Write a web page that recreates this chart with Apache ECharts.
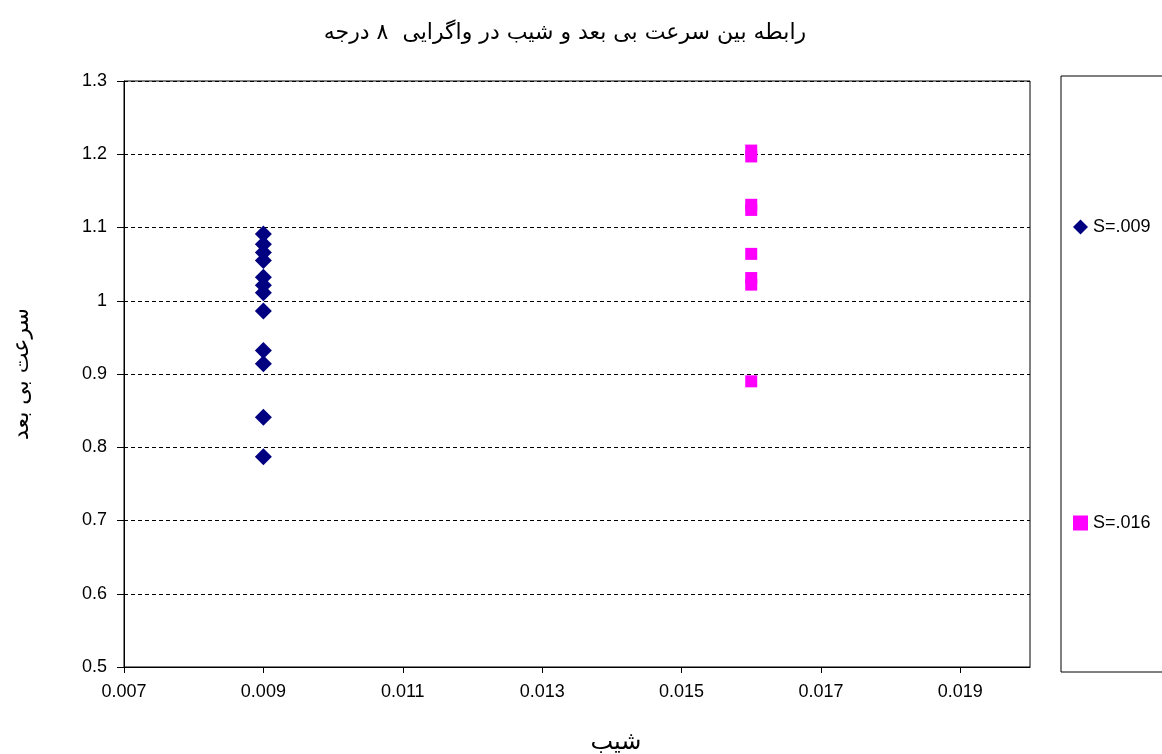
<!DOCTYPE html>
<html>
<head>
<meta charset="utf-8">
<script src="https://cdn.jsdelivr.net/npm/echarts@6/dist/echarts.min.js"></script>
<style>
html,body{margin:0;padding:0;background:#fff;}
#chart{width:1162px;height:754px;}
</style>
</head>
<body>
<div id="chart"></div>
<script>
const titleText = 'رابطه بین سرعت بی بعد و شیب در واگرایی  ۸ درجه';
const xAxisName = 'شیب';
const yAxisName = 'سرعت بی بعد';
const seriesNames = ['S=.009', 'S=.016'];
const xTickLabels = [0.007, 0.009, 0.011, 0.013, 0.015, 0.017, 0.019];
const s009Slope = 0.009;
const s009Values = [1.091, 1.077, 1.066, 1.055, 1.032, 1.021, 1.011, 0.986, 0.932, 0.914, 0.841, 0.787];
const s016Slope = 0.016;
const s016Values = [1.205, 1.197, 1.131, 1.124, 1.064, 1.031, 1.022, 0.890];

const chart = echarts.init(document.getElementById('chart'));
const font = '"Liberation Sans", Arial, sans-serif';
const arFont = '"DejaVu Sans", "Noto Sans", sans-serif';
chart.setOption({
  animation: false,
  backgroundColor: '#fff',
  title: {
    text: titleText,
    left: 560,
    top: 17,
    textAlign: 'center',
    textStyle: { fontFamily: arFont, fontSize: 22, fontWeight: 'normal', color: '#000' }
  },
  grid: {
    left: 124, top: 81, right: 132, bottom: 87,
    outerBoundsMode: 'none',
    containLabel: false,
    show: true, borderColor: '#000', borderWidth: 1, backgroundColor: '#fff'
  },
  legend: {
    orient: 'vertical',
    left: 1061,
    top: 76,
    padding: [142, 200, 140, 12],
    borderColor: '#000',
    borderWidth: 1,
    itemWidth: 15,
    itemHeight: 15,
    itemGap: 278,
    textStyle: { fontFamily: font, fontSize: 18, color: '#000' },
    data: [
      { name: seriesNames[0], icon: 'diamond' },
      { name: seriesNames[1], icon: 'rect' }
    ]
  },
  xAxis: {
    type: 'value',
    min: 0.007,
    max: 0.020,
    name: xAxisName,
    nameLocation: 'middle',
    nameGap: 64,
    nameTextStyle: { fontFamily: arFont, fontSize: 24, color: '#000', padding: [0, 0, 0, 78] },
    axisLine: { show: true, lineStyle: { color: '#000', width: 1 } },
    axisTick: { show: true, length: 6, customValues: xTickLabels, lineStyle: { color: '#000' } },
    axisLabel: { customValues: xTickLabels, margin: 16, fontFamily: font, fontSize: 18, color: '#000',
      formatter: v => v.toFixed(3) },
    splitLine: { show: false }
  },
  yAxis: {
    type: 'value',
    min: 0.5,
    max: 1.3,
    interval: 0.1,
    name: yAxisName,
    nameLocation: 'middle',
    nameRotate: 90,
    nameGap: 91,
    nameTextStyle: { fontFamily: arFont, fontSize: 22, color: '#000' },
    axisLine: { show: true, lineStyle: { color: '#000', width: 1 } },
    axisTick: { show: true, length: 7, lineStyle: { color: '#000' } },
    axisLabel: { margin: 17, fontFamily: font, fontSize: 18, color: '#000' },
    splitLine: { show: true, lineStyle: { color: '#000', type: [4, 3], width: 1 } }
  },
  series: [
    {
      name: seriesNames[0], type: 'scatter', symbol: 'diamond', symbolSize: 17,
      itemStyle: { color: '#000080', opacity: 1 },
      data: s009Values.map(v => [s009Slope, v])
    },
    {
      name: seriesNames[1], type: 'scatter', symbol: 'rect', symbolSize: 12,
      itemStyle: { color: '#ff00ff', opacity: 1 },
      data: s016Values.map(v => [s016Slope, v])
    }
  ]
});
</script>
</body>
</html>
